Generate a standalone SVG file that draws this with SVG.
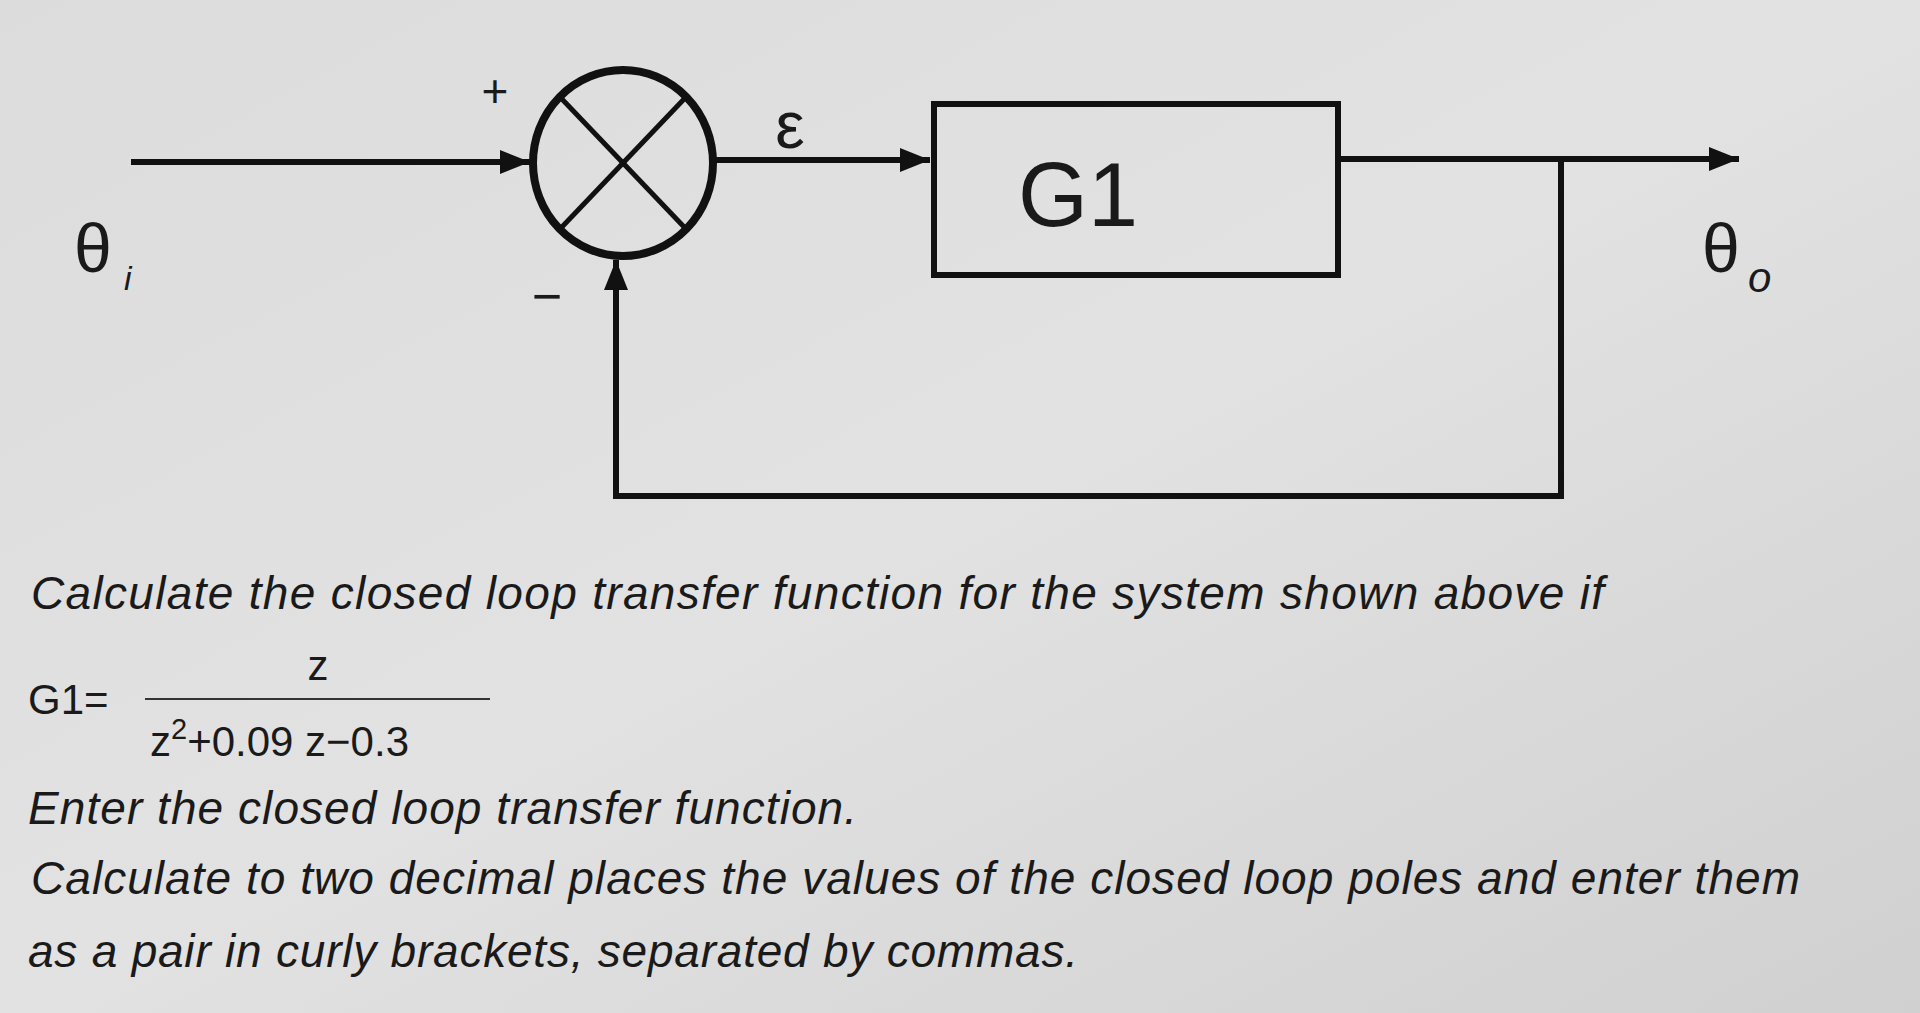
<svg xmlns="http://www.w3.org/2000/svg" width="1920" height="1013" viewBox="0 0 1920 1013">
<defs>
<linearGradient id="bg" x1="0" y1="0" x2="1" y2="1">
<stop offset="0" stop-color="#dcdcdc"/><stop offset="0.5" stop-color="#e2e2e2"/><stop offset="1" stop-color="#d0d0d0"/>
</linearGradient>
<marker id="ah" viewBox="0 0 10 10" refX="10" refY="5" markerWidth="5" markerHeight="5" orient="auto" markerUnits="strokeWidth">
<path d="M0,1 L10,5 L0,9 Z" fill="#111"/>
</marker>
<style>
.ln{stroke:#111;stroke-width:6;fill:none}
.t{font-family:"Liberation Sans",Arial,sans-serif;fill:#1a1a1a}
.q{font-family:"Liberation Sans",Arial,sans-serif;font-style:italic;font-size:46px;fill:#1a1a1a}
</style>
</defs>
<rect width="1920" height="1013" fill="url(#bg)"/>
<g id="sum">
<ellipse cx="623" cy="163" rx="90" ry="93" fill="none" stroke="#111" stroke-width="8"/>
<line x1="560" y1="97" x2="686" y2="229" stroke="#111" stroke-width="5"/>
<line x1="686" y1="97" x2="560" y2="229" stroke="#111" stroke-width="5"/>
</g>
<g id="g1">
<rect x="934" y="104" width="404" height="171" fill="none" stroke="#111" stroke-width="6"/>
<text class="t" x="1078" y="226" font-size="90" text-anchor="middle">G1</text>
</g>
<g id="connectors">
<line class="ln" x1="131" y1="162" x2="530" y2="162" marker-end="url(#ah)"/>
<line class="ln" x1="713" y1="160" x2="930" y2="160" marker-end="url(#ah)"/>
<line class="ln" x1="1341" y1="159" x2="1739" y2="159" marker-end="url(#ah)"/>
<polyline class="ln" points="1561,159 1561,496 616,496 616,260" marker-end="url(#ah)"/>
</g>
<g id="labels">
<text class="t" x="495" y="107" font-size="46" text-anchor="middle">+</text>
<text class="t" x="547" y="314" font-size="52" text-anchor="middle">−</text>
<text class="t" x="790" y="148" font-size="66" text-anchor="middle">ε</text>
<text class="t" x="74" y="272" font-size="68">θ</text><text class="t" x="124" y="290" font-size="34" font-style="italic">i</text>
<text class="t" x="1702" y="272" font-size="68">θ</text><text class="t" x="1748" y="292" font-size="42" font-style="italic">o</text>
</g>
<g id="question">
<text class="q" x="31" y="609" textLength="1573" lengthAdjust="spacing">Calculate the closed loop transfer function for the system shown above if</text>
<text class="t" x="28" y="714" font-size="42">G1=</text>
<text class="t" x="318" y="680" font-size="42" text-anchor="middle">z</text>
<line x1="145" y1="699" x2="490" y2="699" stroke="#333" stroke-width="2"/>
<text class="t" x="150" y="756" font-size="42">z<tspan dy="-17" font-size="29">2</tspan><tspan dy="17">+0.09 z−0.3</tspan></text>
<text class="q" x="28" y="824" textLength="829" lengthAdjust="spacing">Enter the closed loop transfer function.</text>
<text class="q" x="31" y="894" textLength="1769" lengthAdjust="spacing">Calculate to two decimal places the values of the closed loop poles and enter them</text>
<text class="q" x="28" y="967" textLength="1050" lengthAdjust="spacing">as a pair in curly brackets, separated by commas.</text>
</g>
</svg>
